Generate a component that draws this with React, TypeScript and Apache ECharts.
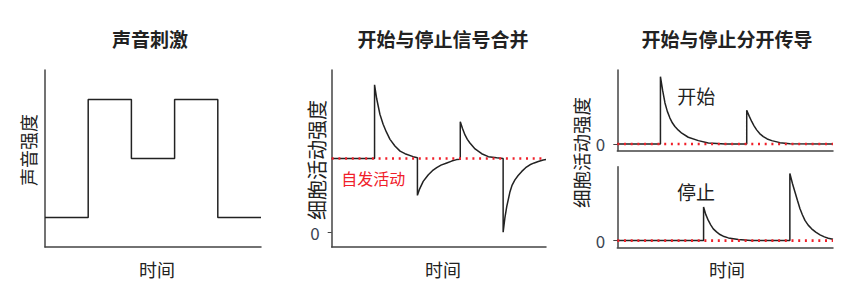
import React, { useEffect, useRef } from "react";
import * as echarts from "echarts";

// Sound stimulus (step profile)
const stimTime = [0, 2, 2, 4, 4, 6, 6, 8, 8, 10];
const stimLevel = [1, 1, 5, 5, 3, 3, 5, 5, 1, 1];

// Single cell carrying both onset and offset responses (spontaneous level = 2)
const mergedTime = [
  0, 2, 2, 2.1, 2.25, 2.4, 2.55, 2.72, 2.95, 3.19, 3.42, 3.8, 4,
  4, 4.1, 4.27, 4.4, 4.51, 4.7, 4.9, 5.1, 5.37, 5.6, 5.83, 6,
  6, 6.1, 6.22, 6.33, 6.45, 6.69, 7.0, 7.31, 7.7, 8,
  8, 8.08, 8.17, 8.32, 8.42, 8.55, 8.7, 8.87, 9.05, 9.25, 9.45, 9.64, 9.87, 10,
];
const mergedActivity = [
  2, 2, 4, 3.62, 3.2, 2.93, 2.72, 2.52, 2.34, 2.2, 2.13, 2.05, 2.02,
  1.0, 1.17, 1.38, 1.48, 1.56, 1.67, 1.75, 1.82, 1.88, 1.93, 1.97, 1.98,
  3.0, 2.82, 2.64, 2.52, 2.42, 2.26, 2.13, 2.05, 2.02, 2.0,
  0, 0.38, 0.7, 1.1, 1.28, 1.42, 1.54, 1.65, 1.75, 1.83, 1.88, 1.92, 1.96, 1.97,
];
const spontaneousLevel = 2;

// Onset-only cell
const onsetTime = [
  0, 2, 2, 2.1, 2.21, 2.32, 2.44, 2.55, 2.67, 2.83, 2.99, 3.29, 3.76, 4.22, 5, 6,
  6, 6.12, 6.23, 6.34, 6.46, 6.6, 6.77, 6.95, 7.16, 7.54, 8, 10,
];
const onsetActivity = [
  0, 0, 2, 1.6, 1.22, 0.97, 0.77, 0.63, 0.52, 0.41, 0.32, 0.2, 0.1, 0.03, 0, 0,
  1, 0.82, 0.67, 0.54, 0.42, 0.31, 0.22, 0.15, 0.1, 0.04, 0.01, 0,
];

// Offset-only cell
const offsetTime = [
  0, 4, 4, 4.1, 4.22, 4.33, 4.45, 4.6, 4.76, 4.95, 5.15, 5.61, 6.2, 8,
  8, 8.12, 8.24, 8.35, 8.47, 8.58, 8.7, 8.85, 9.01, 9.2, 9.4, 9.6, 9.78, 10,
];
const offsetActivity = [
  0, 0, 1, 0.78, 0.6, 0.47, 0.35, 0.26, 0.18, 0.12, 0.08, 0.03, 0, 0,
  2, 1.7, 1.44, 1.2, 0.95, 0.77, 0.6, 0.46, 0.35, 0.25, 0.17, 0.11, 0.07, 0.04,
];

const titles = ["声音刺激", "开始与停止信号合并", "开始与停止分开传导"];
const zeroTick = [0];

const FONT = "'Noto Sans CJK SC', 'Noto Sans', sans-serif";
const AXIS_COLOR = "#444";
const LINE_COLOR = "#222";
const TEXT_COLOR = "#222";
const RED = "#f0202a";

const zip = (xs: number[], ys: number[]) => xs.map((x, i) => [x, ys[i]]);

export default function App() {
  const ref = useRef<HTMLDivElement>(null);

  useEffect(() => {
    if (!ref.current) return;
    const chart = echarts.init(ref.current, undefined, { renderer: "svg" });

    const xAxisBase = (gridIndex: number) => ({
      type: "value" as const,
      gridIndex,
      min: 0,
      max: 10,
      axisLine: { show: true, onZero: false, lineStyle: { color: AXIS_COLOR, width: 1.5 } },
      axisTick: { show: false },
      axisLabel: { show: false },
      splitLine: { show: false },
    });

    const yAxisBase = (gridIndex: number, min: number, max: number, withZero: boolean) => ({
      type: "value" as const,
      gridIndex,
      min,
      max,
      axisLine: { show: true, onZero: false, lineStyle: { color: AXIS_COLOR, width: 1.5 } },
      axisTick: withZero
        ? { show: true, customValues: zeroTick, length: 4, lineStyle: { color: AXIS_COLOR, width: 1 } }
        : { show: false },
      axisLabel: withZero
        ? { show: true, customValues: zeroTick, margin: 12, fontSize: 17, color: "#3b4452", fontFamily: FONT }
        : { show: false },
      splitLine: { show: false },
    });

    const curve = (xi: number, data: number[][]) => ({
      type: "line" as const,
      xAxisIndex: xi,
      yAxisIndex: xi,
      data,
      showSymbol: false,
      symbol: "none",
      lineStyle: { color: LINE_COLOR, width: 1.5 },
      z: 2,
    });

    const dotted = (xi: number, level: number) => ({
      type: "line" as const,
      xAxisIndex: xi,
      yAxisIndex: xi,
      data: [
        [0, level],
        [10, level],
      ],
      showSymbol: false,
      symbol: "none",
      lineStyle: { color: RED, width: 2.6, type: [2, 4.7] as any },
      z: 3,
    });

    const text = (t: string, x: number, y: number, size: number, opts: any = {}) => ({
      type: "text",
      x,
      y,
      rotation: opts.rotate ? Math.PI / 2 : 0,
      style: {
        text: t,
        fontSize: size,
        fontFamily: FONT,
        fontWeight: opts.bold ? "bold" : "normal",
        fill: opts.color || TEXT_COLOR,
        align: "center",
        verticalAlign: "middle",
      },
    });

    chart.setOption({
      animation: false,
      backgroundColor: "#fff",
      grid: [
        { left: 45, top: 70, width: 216, height: 177 },
        { left: 331.7, top: 70, width: 214.3, height: 177 },
        { left: 617.3, top: 70, width: 215.7, height: 80.7 },
        { left: 617.3, top: 166.7, width: 215.7, height: 80.6 },
      ],
      xAxis: [xAxisBase(0), xAxisBase(1), xAxisBase(2), xAxisBase(3)],
      yAxis: [
        yAxisBase(0, 0, 6, false),
        yAxisBase(1, -0.4, 4.4, true),
        yAxisBase(2, -0.2, 2.2, true),
        yAxisBase(3, -0.2, 2.2, true),
      ],
      series: [
        curve(0, zip(stimTime, stimLevel)),
        curve(1, zip(mergedTime, mergedActivity)),
        dotted(1, spontaneousLevel),
        curve(2, zip(onsetTime, onsetActivity)),
        dotted(2, 0),
        curve(3, zip(offsetTime, offsetActivity)),
        dotted(3, 0),
      ],
      graphic: [
        text(titles[0], 150, 38, 19, { bold: true }),
        text(titles[1], 443, 38, 19, { bold: true }),
        text(titles[2], 727, 38, 19, { bold: true }),
        text("声音强度", 28, 150, 18, { rotate: true }),
        text("细胞活动强度", 316.7, 160, 20, { rotate: true }),
        text("细胞活动强度", 580.7, 152.5, 18.5, { rotate: true }),
        text("时间", 157, 269, 18),
        text("时间", 443, 269, 18),
        text("时间", 727, 269, 18),
        text("自发活动", 373.3, 178.3, 16, { color: RED }),
        text("开始", 696.3, 95, 19),
        text("停止", 696, 191.7, 19),
      ],
    });

    return () => chart.dispose();
  }, []);

  return (
    <div
      ref={ref}
      style={{ position: "absolute", left: 0, top: 0, width: 847, height: 290 }}
    />
  );
}
